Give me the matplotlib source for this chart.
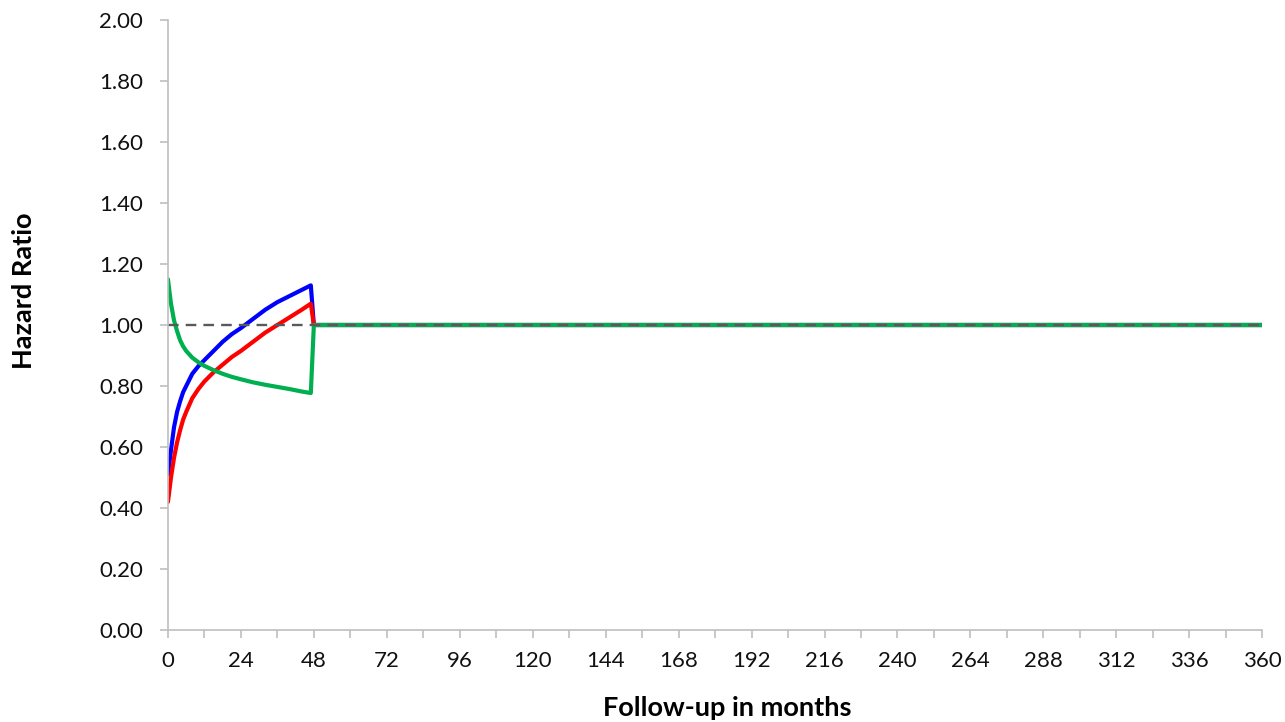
import matplotlib.pyplot as plt
from matplotlib.ticker import MultipleLocator, FormatStrFormatter

# follow-up months and hazard ratios for the three curves
months = [0, 1, 2, 3, 4, 5, 6, 8, 10, 12, 15, 18, 21, 24, 28, 32, 36, 40, 44, 47, 48, 360]
hr_blue = [0.51, 0.59, 0.665, 0.715, 0.75, 0.78, 0.80, 0.84, 0.865, 0.885, 0.915,
           0.945, 0.97, 0.99, 1.02, 1.05, 1.075, 1.095, 1.115, 1.13, 1.00, 1.00]
hr_red = [0.42, 0.50, 0.565, 0.615, 0.655, 0.69, 0.715, 0.76, 0.79, 0.815, 0.845,
          0.87, 0.895, 0.915, 0.945, 0.975, 1.00, 1.025, 1.05, 1.07, 1.00, 1.00]
hr_green = [1.15, 1.07, 1.015, 0.98, 0.95, 0.93, 0.915, 0.893, 0.878, 0.866, 0.852,
            0.84, 0.83, 0.822, 0.812, 0.804, 0.797, 0.79, 0.782, 0.777, 1.00, 1.00]
ref_x = [0, 360]
ref_y = [1.0, 1.0]

plt.rcParams['font.family'] = ['Lato', 'DejaVu Sans']

fig = plt.figure(figsize=(12.85, 7.22), dpi=100)
ax = fig.add_axes([0.1307, 0.1274, 0.8516, 0.8449])

for vals, col in [(hr_blue, '#0000FF'), (hr_red, '#FF0000'), (hr_green, '#00B050')]:
    ax.plot(months, vals, color=col, lw=3.0, solid_joinstyle='round',
            solid_capstyle='round')
# reference line at HR = 1
ax.plot(ref_x, ref_y, color='#595959', lw=1.7, ls=(0, (4.5, 3)))

ax.set_xlim(0, 360)
ax.set_ylim(0, 2.0)
ax.xaxis.set_major_locator(MultipleLocator(24))
ax.xaxis.set_minor_locator(MultipleLocator(12))
ax.yaxis.set_major_locator(MultipleLocator(0.2))
ax.yaxis.set_major_formatter(FormatStrFormatter('%.2f'))

for side in ['top', 'right']:
    ax.spines[side].set_visible(False)
for side in ['left', 'bottom']:
    ax.spines[side].set_color('#BFBFBF')
    ax.spines[side].set_linewidth(1.2)

ax.tick_params(axis='both', which='both', direction='out', length=6,
               width=1.2, color='#BFBFBF', labelsize=16, labelcolor='#111111')
ax.tick_params(axis='y', pad=12)
ax.tick_params(axis='x', pad=9)

fig.text(0.5658, 0.02, 'Follow-up in months', ha='center', va='center',
         fontsize=19.5, fontweight='bold')
fig.text(0.019, 0.597, 'Hazard Ratio', ha='center', va='center',
         rotation=90, fontsize=19.5, fontweight='bold')

fig.savefig('out.png', dpi=100)
